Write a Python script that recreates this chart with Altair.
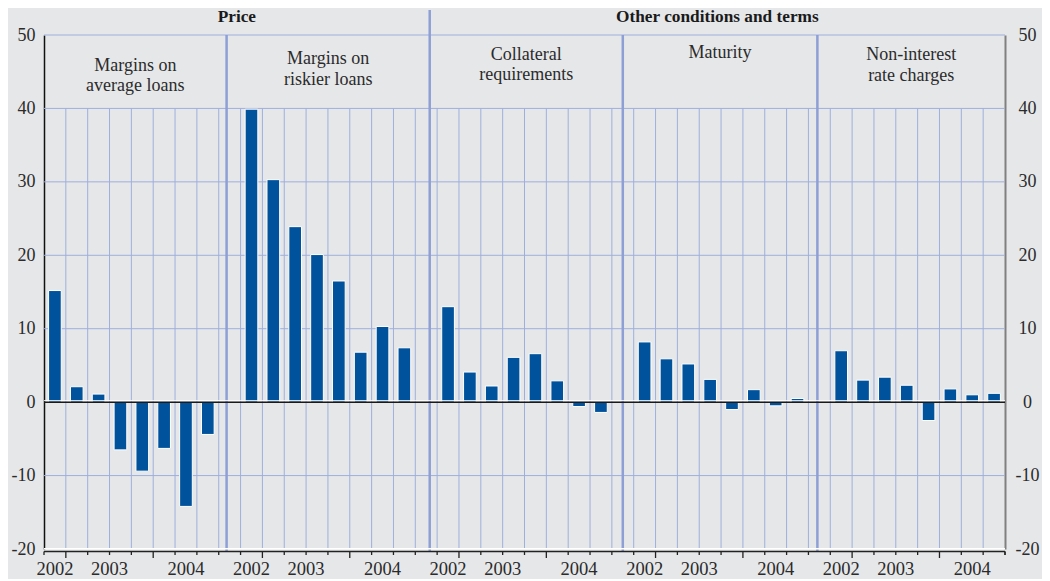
import altair as alt
import pandas as pd

# ---------------- data ----------------
panel_titles = [
    ["Margins on", "average loans"],
    ["Margins on", "riskier loans"],
    ["Collateral", "requirements"],
    ["Maturity"],
    ["Non-interest", "rate charges"],
]
group_titles = ["Price", "Other conditions and terms"]
group_panels = [[0, 1], [2, 3, 4]]
quarters = ["2002Q4", "2003Q1", "2003Q2", "2003Q3", "2003Q4", "2004Q1", "2004Q2", "2004Q3"]
years = ["2002", "2003", "2004"]
values = [
    [15.2, 2.1, 1.1, -6.5, -9.4, -6.3, -14.2, -4.4],
    [39.9, 30.3, 23.9, 20.1, 16.5, 6.8, 10.3, 7.4],
    [13.0, 4.1, 2.2, 6.1, 6.6, 2.9, -0.6, -1.4],
    [8.2, 5.9, 5.2, 3.1, -1.0, 1.7, -0.5, 0.5],
    [7.0, 3.0, 3.4, 2.3, -2.5, 1.8, 1.0, 1.2],
]
y_ticks = [-20, -10, 0, 10, 20, 30, 40, 50]

# ---------------- layout ----------------
W, H = 961, 514
YMIN, YMAX = -20, 50
UPP = (YMAX - YMIN) / H          # data units per pixel (y)
SLOTS_PER_PANEL = len(quarters) + 1
NSLOT = SLOTS_PER_PANEL * len(values) - 1
dividers = [8.36, 17.66, 26.5, 35.41]
major_divider = 1               # index of the divider between groups
title_px = {0: [65.5, 86], 1: [58.5, 80], 2: [55, 75], 3: [53], 4: [55, 76]}
BLUE = "#00529c"
GRID = "#9fafdd"
DIV = "#8e9fd6"
BG = "#e6e7e9"
FONT = "Liberation Serif"
TXT = "#2b2b2b"


def ypx(p):
    """page-pixel y (from top of page) -> data value"""
    return YMAX - (p - 35) * UPP


xs = alt.Scale(domain=[0, NSLOT], nice=False, zero=False)
ys = alt.Scale(domain=[YMIN, YMAX], nice=False, zero=False)

# bars
bar_rows = []
for p, vals in enumerate(values):
    for k, v in enumerate(vals):
        s = SLOTS_PER_PANEL * p + k
        bar_rows.append({"x0": s + 0.21, "x1": s + 0.79, "v": v, "base": 0.0,
                         "quarter": quarters[k], "panel": " ".join(panel_titles[p])})
df_bars = pd.DataFrame(bar_rows)

# horizontal grid lines
df_h = pd.DataFrame({"y": [t for t in y_ticks if t not in (0, YMIN)], "x0": 0, "x1": NSLOT})
# vertical grid lines
df_v = pd.DataFrame({"x": list(range(1, NSLOT)), "y0": YMIN, "y1": 40})
# dividers
df_d = pd.DataFrame({"x": dividers,
                     "y0": ypx(552),
                     "y1": [ypx(10) if i == major_divider else YMAX for i in range(len(dividers))]})

# bottom ticks
tick_rows = []
bottom = ypx(551.5)
for p in range(len(values)):
    base = SLOTS_PER_PANEL * p
    year_starts = {base + i for i, q in enumerate(quarters) if i > 0 and q[:4] != quarters[i - 1][:4]}
    for b in range(base, base + SLOTS_PER_PANEL):
        if b > NSLOT:
            break
        long = b in year_starts
        tick_rows.append({"x": b, "y0": bottom, "y1": bottom - (6.5 if long else 3.5) * UPP})
tick_rows.append({"x": NSLOT, "y0": bottom, "y1": bottom - 3.5 * UPP})
df_ticks = pd.DataFrame(tick_rows)

# year labels
year_rows = []
for p in range(len(values)):
    base = SLOTS_PER_PANEL * p
    for yr in years:
        idx = [i for i, q in enumerate(quarters) if q.startswith(yr)]
        year_rows.append({"x": base + (idx[0] + idx[-1]) / 2 + 0.5, "y": ypx(569), "t": yr})
df_years = pd.DataFrame(year_rows)

# panel titles
edges = [0] + dividers + [NSLOT]
pt_rows = []
for p, lines in enumerate(panel_titles):
    for j, line in enumerate(lines):
        pt_rows.append({"x": (edges[p] + edges[p + 1]) / 2, "y": ypx(title_px[p][j]), "t": line})
df_pt = pd.DataFrame(pt_rows)

# group titles
gt_rows = []
for g, (title, pans) in enumerate(zip(group_titles, group_panels)):
    gt_rows.append({"x": (edges[pans[0]] + edges[pans[-1] + 1]) / 2, "y": ypx(17), "t": title})
df_gt = pd.DataFrame(gt_rows)

# ---------------- layers ----------------
X = lambda f: alt.X(f, scale=xs, axis=None)
Y = lambda f: alt.Y(f, scale=ys, axis=None)

hgrid = alt.Chart(df_h).mark_rule(color=GRID, strokeWidth=1).encode(
    x=X("x0:Q"), x2="x1:Q", y=Y("y:Q"))
vgrid = alt.Chart(df_v).mark_rule(color=GRID, strokeWidth=1).encode(
    x=X("x:Q"), y=Y("y0:Q"), y2="y1:Q")
divs = alt.Chart(df_d).mark_rule(color=DIV, strokeWidth=2.5).encode(
    x=X("x:Q"), y=Y("y0:Q"), y2="y1:Q")

left_axis = alt.Axis(values=y_ticks, ticks=False, grid=False, domainColor="#111111",
                     domainWidth=1.5, labelFont=FONT, labelFontSize=18, labelColor=TXT,
                     labelPadding=9, title=None, orient="left",
                     labelExpr="'' + datum.value")
right_axis = alt.Axis(values=y_ticks, ticks=False, grid=False, domainColor="#808080",
                      domainWidth=2, labelFont=FONT, labelFontSize=18, labelColor=TXT,
                      labelPadding=22, labelAlign="center", title=None, orient="right",
                      labelExpr="'' + datum.value")

bars = alt.Chart(df_bars).mark_bar(color=BLUE, stroke="white", strokeWidth=1).encode(
    x=X("x0:Q"), x2="x1:Q",
    y=alt.Y("v:Q", scale=ys, axis=left_axis), y2="base:Q")

zero_df = pd.DataFrame({"x0": [0], "x1": [NSLOT], "y": [0.0], "yw": [0.2]})
zero_white = alt.Chart(zero_df).mark_rule(color="white", strokeWidth=1).encode(
    x=X("x0:Q"), x2="x1:Q", y=Y("yw:Q"))
zero_line = alt.Chart(zero_df).mark_rule(color="#1a1a1a", strokeWidth=1.5).encode(
    x=X("x0:Q"), x2="x1:Q", y=Y("y:Q"))

bot_df = pd.DataFrame({"x0": [0], "x1": [NSLOT], "yw": [YMIN + 0.02], "yd": [bottom]})
bot_white = alt.Chart(bot_df).mark_rule(color="white", strokeWidth=1.5).encode(
    x=X("x0:Q"), x2="x1:Q", y=Y("yw:Q"))
bot_dark = alt.Chart(bot_df).mark_rule(color="#222222", strokeWidth=1.3).encode(
    x=X("x0:Q"), x2="x1:Q", y=Y("yd:Q"))
ticks = alt.Chart(df_ticks).mark_rule(color="#222222", strokeWidth=1.3).encode(
    x=X("x:Q"), y=Y("y0:Q"), y2="y1:Q")

year_text = alt.Chart(df_years).mark_text(font=FONT, fontSize=18.5, color=TXT,
                                          baseline="middle", align="center").encode(
    x=X("x:Q"), y=Y("y:Q"), text="t:N")
panel_text = alt.Chart(df_pt).mark_text(font=FONT, fontSize=18, color=TXT,
                                        baseline="middle", align="center").encode(
    x=X("x:Q"), y=Y("y:Q"), text="t:N")
group_text = alt.Chart(df_gt).mark_text(font=FONT, fontSize=17.3, fontWeight="bold",
                                        color="#1a1a1a", baseline="middle", align="center").encode(
    x=X("x:Q"), y=Y("y:Q"), text="t:N")

right = alt.Chart(df_h).mark_rule(opacity=0).encode(
    y=alt.Y("y:Q", scale=ys, axis=right_axis))

chart = alt.layer(
    hgrid, vgrid, divs, bars, zero_white, zero_line, bot_white, bot_dark, ticks,
    year_text, panel_text, group_text, right
).resolve_scale(y="independent").properties(
    width=W, height=H,
    autosize=alt.AutoSizeParams(type="none"),
    padding={"left": 36, "top": 27, "right": 37, "bottom": 30},
    background=BG,
).configure_view(stroke=None)

chart.save("out.html", embed_options={"renderer": "svg", "actions": False})
